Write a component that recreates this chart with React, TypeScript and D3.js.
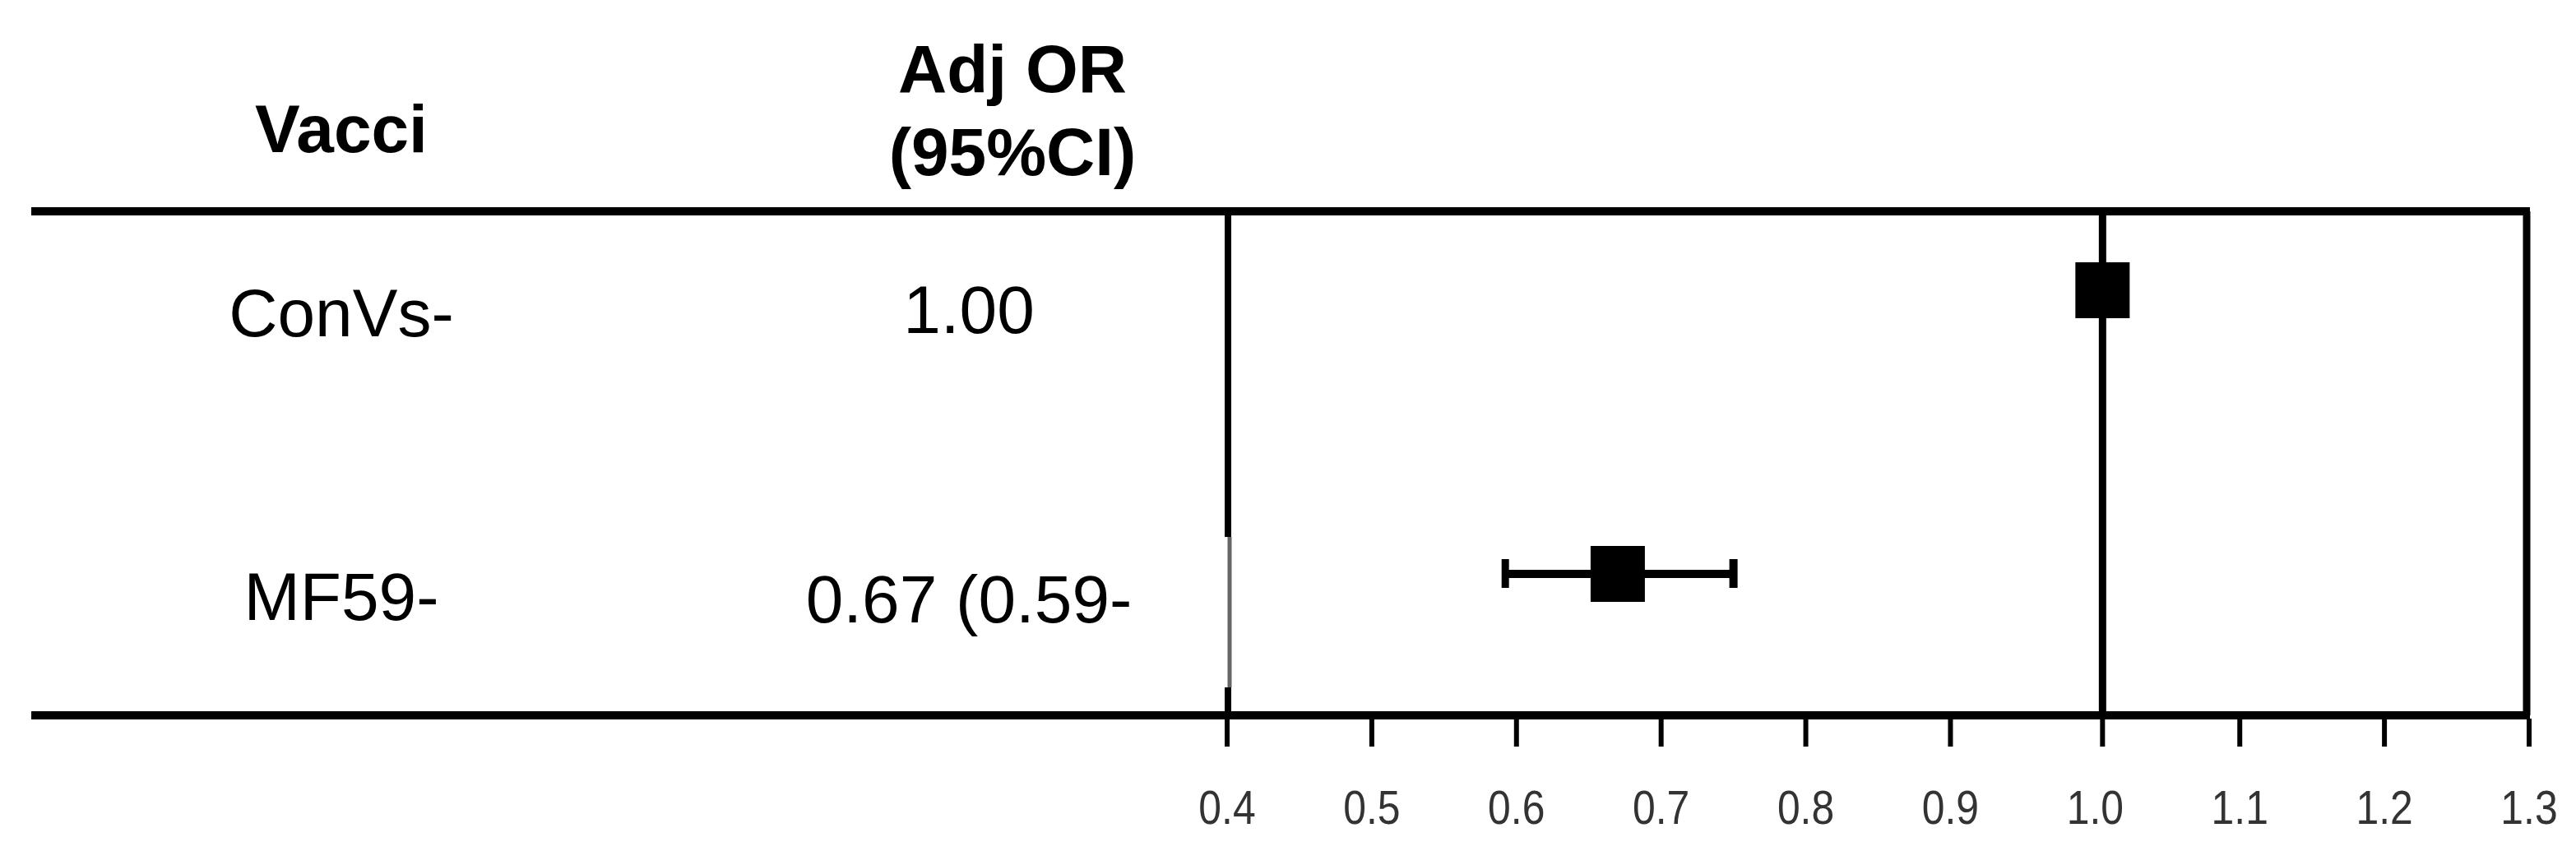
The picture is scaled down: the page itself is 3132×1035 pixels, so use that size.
import React from "react";
import * as d3 from "d3";

const rows = ["ConVs-", "MF59-"];
const orLabels = ["1.00", "0.67 (0.59-"];
const orValues = [1.0, 0.67];
const ciLower: (number | null)[] = [null, 0.59];
const ciUpper: (number | null)[] = [null, 0.75];
const tickValues = [0.4, 0.5, 0.6, 0.7, 0.8, 0.9, 1.0, 1.1, 1.2, 1.3];
const tickLabels = ["0.4", "0.5", "0.6", "0.7", "0.8", "0.9", "1.0", "1.1", "1.2", "1.3"];
const headerCol1 = "Vacci";
const headerCol2 = ["Adj OR", "(95%CI)"];
const refValue = 1.0;

const W = 3132;
const H = 1035;
const FONT = "'Liberation Sans', Arial, Helvetica, sans-serif";

export default function App() {
  const x = d3.scaleLinear().domain([0.4, 1.3]).range([1492, 3075]);
  const y = d3.scalePoint<string>().domain(rows).range([353, 698]);

  const topY = 257;
  const botY = 870;
  const lineLeft = 38;
  const boxLeft = x(0.4) + 1;
  const boxRight = x(1.3) - 3;
  const refX = x(refValue) + 9;

  const col1X = 415;
  const col2X = 1178;
  const headX = 1231;

  const sq = 66;
  const sqH = 68;

  return (
    <svg
      width={W}
      height={H}
      style={{ position: "absolute", left: 0, top: 0, background: "#fff" }}
      xmlns="http://www.w3.org/2000/svg"
    >
      <rect x={0} y={0} width={W} height={H} fill="#fff" />

      {/* headers */}
      <text x={col1X} y={185} fontFamily={FONT} fontWeight="bold" fontSize={82} textAnchor="middle" fill="#000">
        {headerCol1}
      </text>
      <text x={headX} y={112} fontFamily={FONT} fontWeight="bold" fontSize={82} textAnchor="middle" fill="#000">
        {headerCol2[0]}
      </text>
      <text x={headX} y={213} fontFamily={FONT} fontWeight="bold" fontSize={82} textAnchor="middle" fill="#000">
        {headerCol2[1]}
      </text>

      {/* rows text */}
      {rows.map((r, i) => (
        <g key={r}>
          <text x={col1X} y={(y(r) as number) + 56} fontFamily={FONT} fontSize={82} textAnchor="middle" fill="#000">
            {r}
          </text>
          <text x={col2X} y={(y(r) as number) + 52 + (i === 1 ? 7 : 0)} fontFamily={FONT} fontSize={82} textAnchor="middle" fill="#000">
            {orLabels[i]}
          </text>
        </g>
      ))}

      {/* box verticals */}
      <line x1={boxLeft} x2={boxLeft} y1={topY} y2={653} stroke="#000" strokeWidth={8} />
      <line x1={boxLeft + 2} x2={boxLeft + 2} y1={653} y2={836} stroke="#666" strokeWidth={5} />
      <line x1={boxLeft} x2={boxLeft} y1={836} y2={botY} stroke="#000" strokeWidth={8} />
      <line x1={boxRight} x2={boxRight} y1={topY} y2={botY} stroke="#000" strokeWidth={9} />
      {/* reference line */}
      <line x1={refX} x2={refX} y1={topY} y2={botY} stroke="#000" strokeWidth={9} />

      {/* horizontal rules */}
      <line x1={lineLeft} x2={boxRight + 4} y1={topY} y2={topY} stroke="#000" strokeWidth={10} />
      <line x1={lineLeft} x2={boxRight + 4} y1={botY} y2={botY} stroke="#000" strokeWidth={10} />

      {/* ticks */}
      {tickValues.map((t, i) => (
        <g key={t}>
          <line x1={x(t) + (t === 1.0 ? 9 : 0)} x2={x(t) + (t === 1.0 ? 9 : 0)} y1={botY + 4} y2={908} stroke="#000" strokeWidth={6} />
          <text
            transform={`translate(${x(t)},1002) scale(0.86,1)`}
            fontFamily={FONT}
            fontSize={58}
            textAnchor="middle"
            fill="#333"
          >
            {tickLabels[i]}
          </text>
        </g>
      ))}

      {/* error bars and squares */}
      {rows.map((r, i) => {
        const cy = y(r) as number;
        const lo = ciLower[i];
        const hi = ciUpper[i];
        const cx = orValues[i] === refValue ? refX : x(orValues[i]);
        return (
          <g key={"m" + r}>
            {lo !== null && hi !== null && (
              <g>
                <line x1={x(lo)} x2={x(hi)} y1={cy} y2={cy} stroke="#000" strokeWidth={10} />
                <line x1={x(lo) + 4} x2={x(lo) + 4} y1={cy - 18} y2={cy + 17} stroke="#000" strokeWidth={9} />
                <line x1={x(hi)} x2={x(hi)} y1={cy - 18} y2={cy + 17} stroke="#000" strokeWidth={10} />
              </g>
            )}
            <rect x={cx - sq / 2} y={cy - sqH / 2} width={sq} height={sqH} fill="#000" />
          </g>
        );
      })}
    </svg>
  );
}
